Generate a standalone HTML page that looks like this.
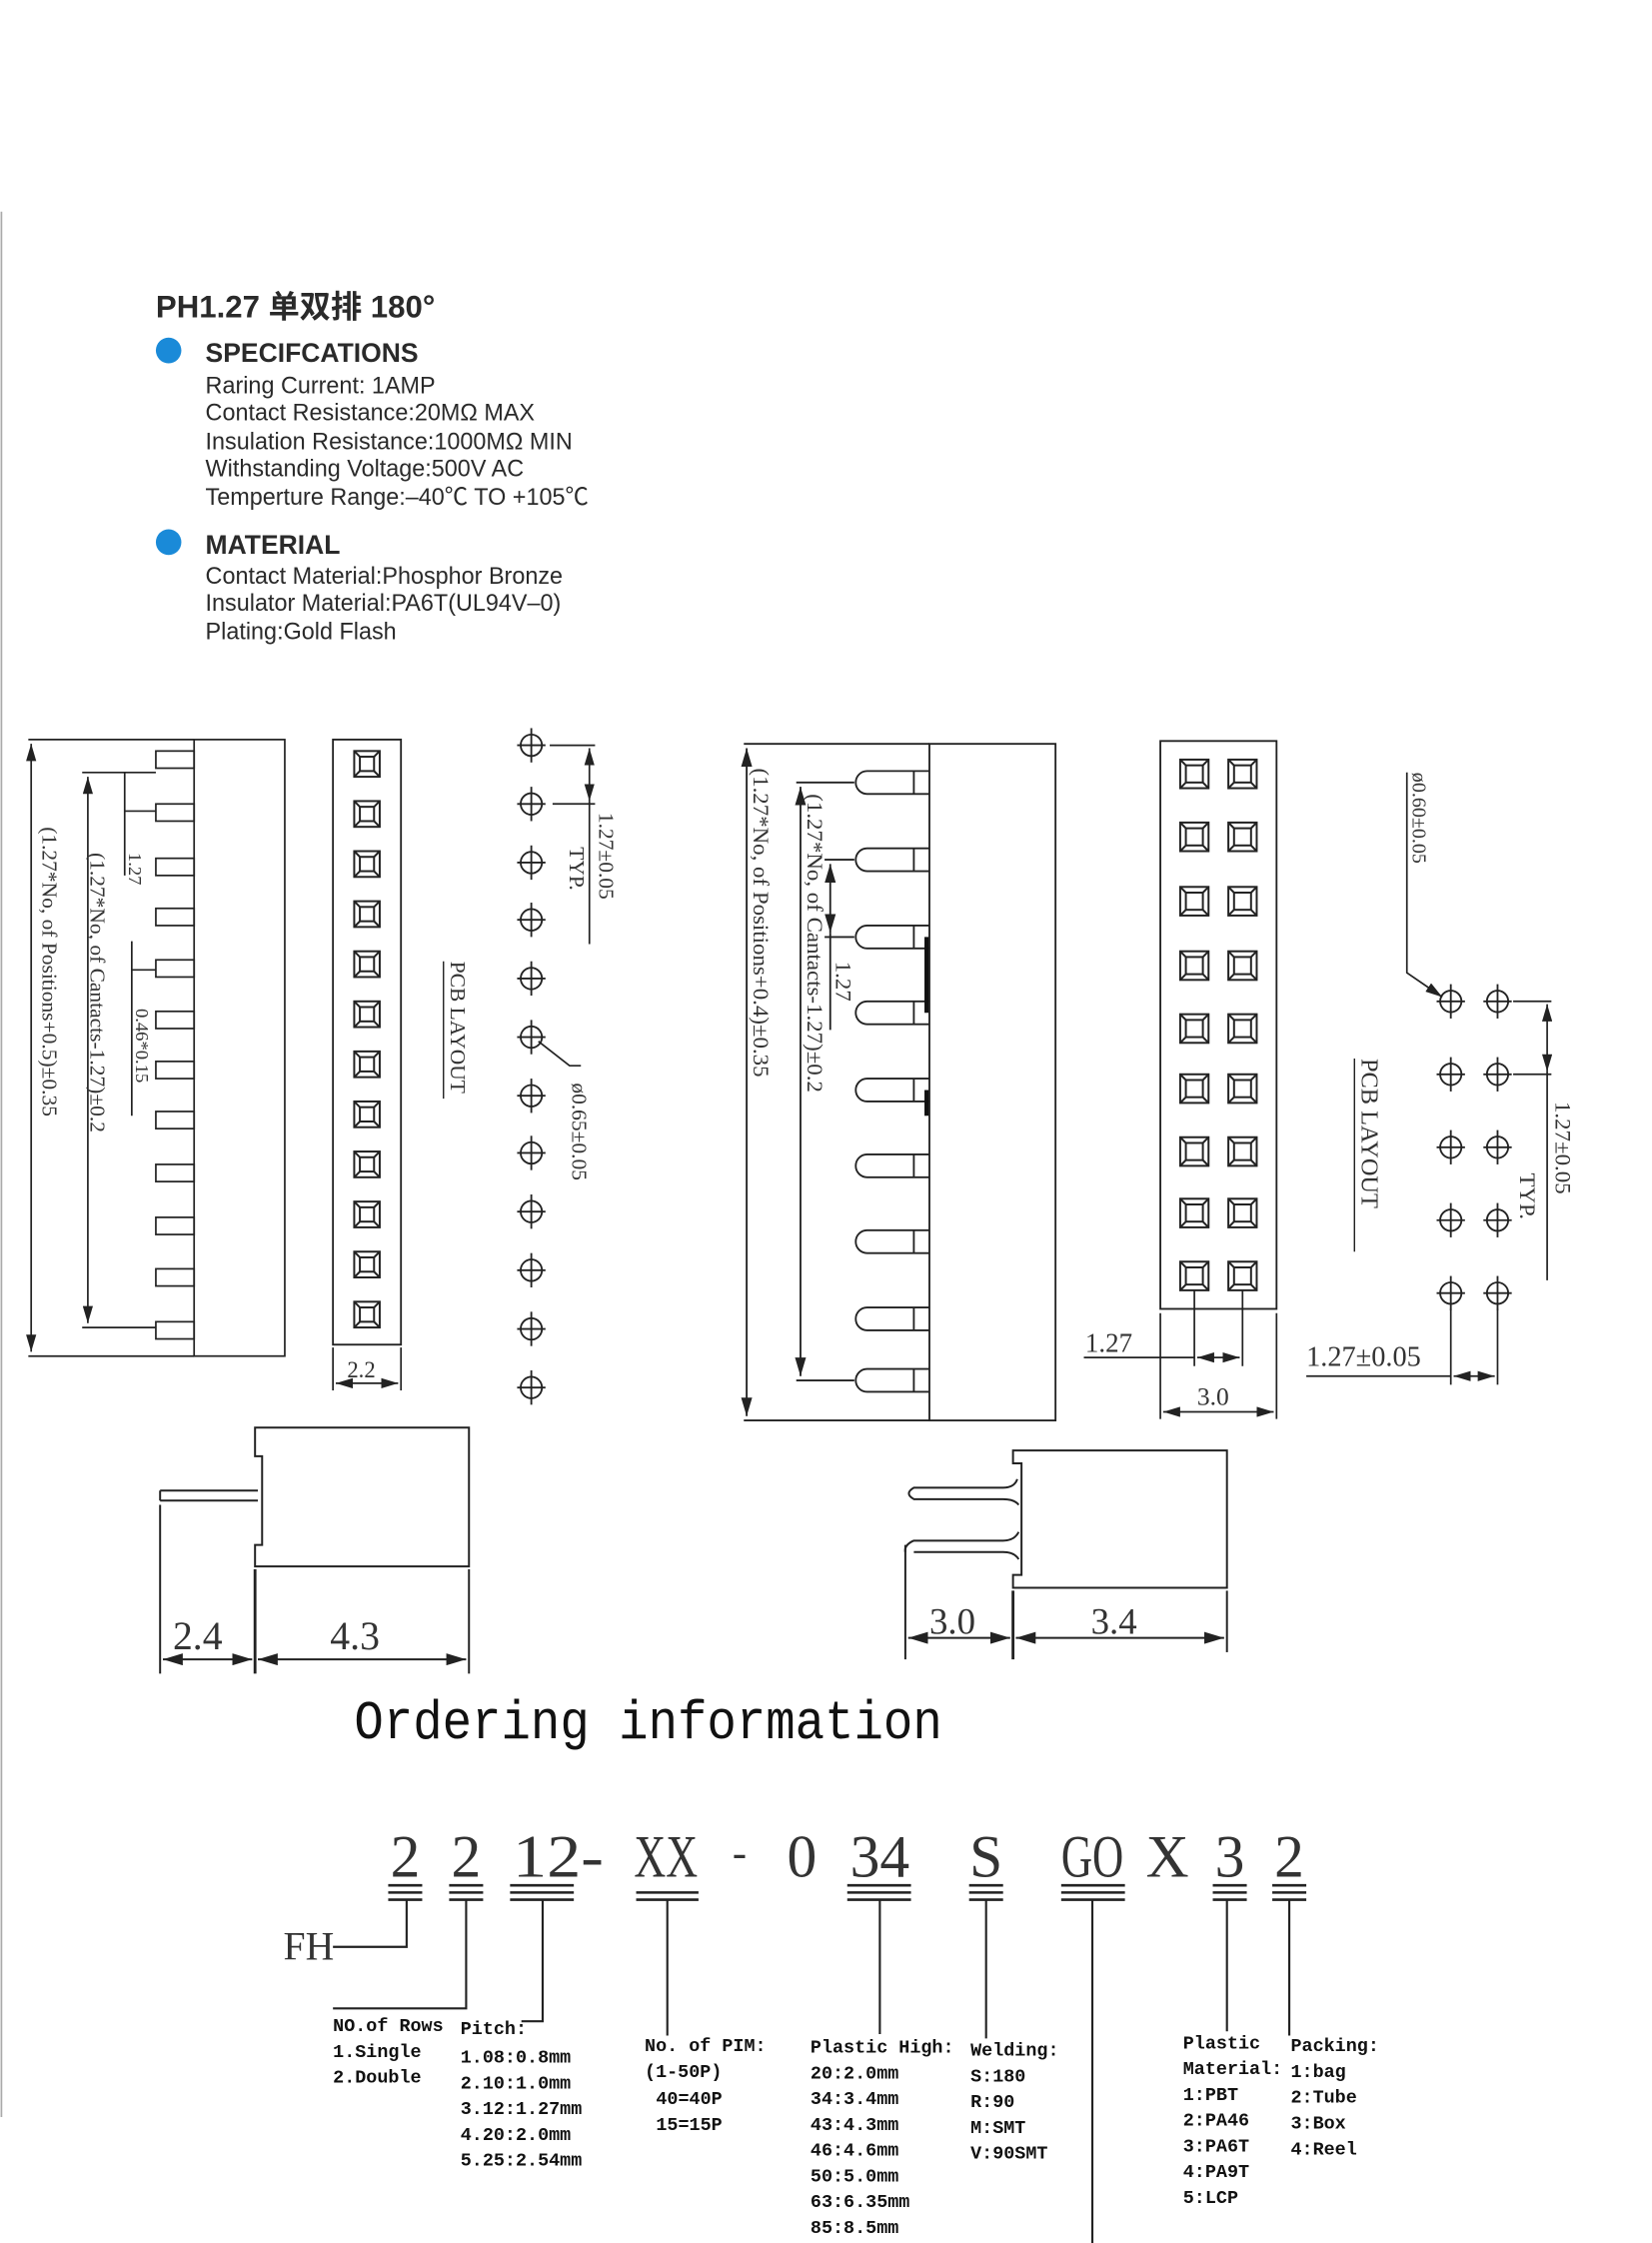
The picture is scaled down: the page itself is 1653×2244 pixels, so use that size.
<!DOCTYPE html>
<html><head><meta charset="utf-8"><style>
html,body{margin:0;padding:0;background:#fff}
svg{display:block}
.s{font-family:"Liberation Sans","Noto Sans CJK SC",sans-serif;fill:#2a2a2a}
.d{font-family:"Liberation Serif",serif;fill:#333}
.m{font-family:"Liberation Mono",monospace;font-weight:bold;fill:#111}
</style></head><body>
<svg width="1653" height="2244" viewBox="0 0 1166 1568" preserveAspectRatio="none" xmlns="http://www.w3.org/2000/svg">
<defs>
<g id="ch" stroke="#222" stroke-width="1.3" fill="none"><circle r="7.5"/><line x1="-10" y1="0" x2="10" y2="0"/><line x1="0" y1="-12" x2="0" y2="12"/></g>
<g id="sq" stroke="#222" stroke-width="1.4" fill="none"><rect x="-9" y="-9" width="18" height="18"/><rect x="-5" y="-5" width="10" height="10"/><path d="M-9,-9L-5,-5M9,-9L5,-5M-9,9L-5,5M9,9L5,5"/></g>
<g id="sq2" stroke="#222" stroke-width="1.4" fill="none"><rect x="-10" y="-10" width="20" height="20"/><rect x="-6" y="-6" width="12" height="12"/><path d="M-10,-10L-6,-6M10,-10L6,-6M-10,10L-6,6M10,10L6,6"/></g>
<g id="lp" stroke="#222" stroke-width="1.2" fill="none"><rect x="110" y="-6" width="27" height="12"/></g>
<g id="mp" stroke="#222" stroke-width="1.3" fill="none"><path d="M656,-8H612A8,8 0 0 0 612,8H656"/><line x1="645" y1="-8" x2="645" y2="8"/></g>
<marker id="ar" markerWidth="10" markerHeight="6" refX="10" refY="3" orient="auto-start-reverse"><path d="M0,0L10,3L0,6z" fill="#222"/></marker>
</defs>
<line x1="1" y1="148" x2="1" y2="1480" stroke="#aaa" stroke-width="1.2"/>

<text x="110" y="222" class="s" font-size="22" font-weight="bold" fill="#222">PH1.27 单双排 180°</text>
<circle cx="119" cy="245" r="9" fill="#1a8ad8"/>
<text x="145" y="253" class="s" font-size="18.7" font-weight="bold">SPECIFCATIONS</text>
<g class="s" font-size="16.5">
<text x="145" y="275">Raring Current: 1AMP</text>
<text x="145" y="294">Contact Resistance:20MΩ  MAX</text>
<text x="145" y="314">Insulation Resistance:1000MΩ  MIN</text>
<text x="145" y="333">Withstanding Voltage:500V AC</text>
<text x="145" y="353">Temperture Range:–40℃ TO +105℃</text>
</g>
<circle cx="119" cy="379" r="9" fill="#1a8ad8"/>
<text x="145" y="387" class="s" font-size="18.7" font-weight="bold">MATERIAL</text>
<g class="s" font-size="16.5">
<text x="145" y="408">Contact Material:Phosphor Bronze</text>
<text x="145" y="427">Insulator Material:PA6T(UL94V–0)</text>
<text x="145" y="447">Plating:Gold Flash</text>
</g>

<g stroke="#222" stroke-width="1.2" fill="none">
<rect x="137" y="517" width="64" height="431"/>
<line x1="20" y1="517" x2="137" y2="517"/><line x1="20" y1="948" x2="137" y2="948"/>
<line x1="22" y1="520" x2="22" y2="945" marker-start="url(#ar)" marker-end="url(#ar)"/>
<line x1="58" y1="540" x2="110" y2="540"/><line x1="58" y1="928" x2="110" y2="928"/>
<line x1="62" y1="543" x2="62" y2="925" marker-start="url(#ar)" marker-end="url(#ar)"/>
<line x1="88" y1="540" x2="88" y2="612"/><line x1="88" y1="567" x2="110" y2="567"/>
<line x1="93" y1="658" x2="93" y2="780"/><line x1="93" y1="678" x2="110" y2="678"/>
</g>
<g>
<use href="#lp" y="531"/><use href="#lp" y="568"/><use href="#lp" y="606"/><use href="#lp" y="641"/><use href="#lp" y="677"/><use href="#lp" y="713"/><use href="#lp" y="748"/><use href="#lp" y="783"/><use href="#lp" y="820"/><use href="#lp" y="857"/><use href="#lp" y="893"/><use href="#lp" y="930"/>
</g>
<g class="d" font-size="15">
<text transform="translate(30,578) rotate(90)">(1.27*No, of Positions+0.5)±0.35</text>
<text transform="translate(64,596) rotate(90)">(1.27*No, of Cantacts-1.27)±0.2</text>
<text transform="translate(91,596) rotate(90)" font-size="13">1.27</text>
<text transform="translate(96,705) rotate(90)" font-size="13">0.46*0.15</text>
</g>

<rect x="235" y="517" width="48" height="423" stroke="#222" stroke-width="1.3" fill="none"/>
<g transform="translate(259,0)">
<use href="#sq" y="534"/><use href="#sq" y="569"/><use href="#sq" y="604"/><use href="#sq" y="639"/><use href="#sq" y="674"/><use href="#sq" y="709"/><use href="#sq" y="744"/><use href="#sq" y="779"/><use href="#sq" y="814"/><use href="#sq" y="849"/><use href="#sq" y="884"/><use href="#sq" y="919"/>
</g>
<g stroke="#222" stroke-width="1.2"><line x1="235" y1="942" x2="235" y2="972"/><line x1="283" y1="942" x2="283" y2="972"/><line x1="237" y1="967" x2="281" y2="967" marker-start="url(#ar)" marker-end="url(#ar)"/></g>
<text x="245" y="963" class="d" font-size="16">2.2</text>

<g transform="translate(375,0)">
<use href="#ch" y="521"/><use href="#ch" y="562"/><use href="#ch" y="603"/><use href="#ch" y="643"/><use href="#ch" y="684"/><use href="#ch" y="725"/><use href="#ch" y="766"/><use href="#ch" y="806"/><use href="#ch" y="847"/><use href="#ch" y="888"/><use href="#ch" y="929"/><use href="#ch" y="970"/>
</g>
<g stroke="#222" stroke-width="1.2" fill="none">
<line x1="388" y1="521" x2="420" y2="521"/><line x1="390" y1="562" x2="420" y2="562"/>
<line x1="416" y1="523" x2="416" y2="560" marker-start="url(#ar)" marker-end="url(#ar)"/>
<line x1="416" y1="560" x2="416" y2="660"/>
<path d="M380,728L402,745H410"/>
</g>
<g class="d" font-size="15">
<text transform="translate(423,568) rotate(90)">1.27±0.05</text>
<text transform="translate(402,592) rotate(90)">TYP.</text>
<text transform="translate(404,757) rotate(90)">ø0.65±0.05</text>
<text transform="translate(318,672) rotate(90)">PCB LAYOUT</text>
</g>
<line x1="313" y1="672" x2="313" y2="768" stroke="#222"/>

<g stroke="#222" stroke-width="1.3" fill="none">
<rect x="656" y="520" width="89" height="473"/>
<line x1="525" y1="520" x2="656" y2="520"/><line x1="525" y1="993" x2="656" y2="993"/>
<line x1="527" y1="523" x2="527" y2="990" marker-start="url(#ar)" marker-end="url(#ar)"/>
<line x1="562" y1="547" x2="603" y2="547"/><line x1="562" y1="965" x2="603" y2="965"/>
<line x1="565" y1="550" x2="565" y2="962" marker-start="url(#ar)" marker-end="url(#ar)"/>
<line x1="582" y1="601" x2="603" y2="601"/><line x1="582" y1="655" x2="603" y2="655"/>
<line x1="586" y1="604" x2="586" y2="652" marker-start="url(#ar)" marker-end="url(#ar)"/>
<line x1="586" y1="652" x2="586" y2="720"/>
</g>
<g>
<use href="#mp" y="547"/><use href="#mp" y="601"/><use href="#mp" y="655"/><use href="#mp" y="708"/><use href="#mp" y="762"/><use href="#mp" y="815"/><use href="#mp" y="868"/><use href="#mp" y="922"/><use href="#mp" y="965"/>
</g>
<g stroke="#111" stroke-width="3"><line x1="654" y1="655" x2="654" y2="708"/><line x1="654" y1="762" x2="654" y2="780"/></g>
<g class="d" font-size="16">
<text transform="translate(532,537) rotate(90)">(1.27*No, of Positions+0.4)±0.35</text>
<text transform="translate(570,555) rotate(90)">(1.27*No, of Cantacts-1.27)±0.2</text>
<text transform="translate(590,672) rotate(90)">1.27</text>
</g>

<rect x="819" y="518" width="82" height="397" stroke="#222" stroke-width="1.3" fill="none"/>
<g>
<g transform="translate(843,0)"><use href="#sq2" y="541"/><use href="#sq2" y="585"/><use href="#sq2" y="630"/><use href="#sq2" y="675"/><use href="#sq2" y="719"/><use href="#sq2" y="761"/><use href="#sq2" y="805"/><use href="#sq2" y="848"/><use href="#sq2" y="892"/></g>
<g transform="translate(877,0)"><use href="#sq2" y="541"/><use href="#sq2" y="585"/><use href="#sq2" y="630"/><use href="#sq2" y="675"/><use href="#sq2" y="719"/><use href="#sq2" y="761"/><use href="#sq2" y="805"/><use href="#sq2" y="848"/><use href="#sq2" y="892"/></g>
</g>
<g stroke="#222" stroke-width="1.2" fill="none">
<line x1="819" y1="918" x2="819" y2="992"/><line x1="901" y1="918" x2="901" y2="992"/>
<line x1="821" y1="987" x2="899" y2="987" marker-start="url(#ar)" marker-end="url(#ar)"/>
<line x1="843" y1="902" x2="843" y2="955"/><line x1="877" y1="902" x2="877" y2="955"/>
<line x1="765" y1="949" x2="843" y2="949"/>
<line x1="845" y1="949" x2="875" y2="949" marker-start="url(#ar)" marker-end="url(#ar)"/>
</g>
<text x="766" y="945" class="d" font-size="19">1.27</text>
<text x="845" y="982" class="d" font-size="18">3.0</text>

<g><g transform="translate(1024,0)"><use href="#ch" y="700"/><use href="#ch" y="751"/><use href="#ch" y="802"/><use href="#ch" y="853"/><use href="#ch" y="904"/></g>
<g transform="translate(1057,0)"><use href="#ch" y="700"/><use href="#ch" y="751"/><use href="#ch" y="802"/><use href="#ch" y="853"/><use href="#ch" y="904"/></g></g>
<g stroke="#222" stroke-width="1.2" fill="none">
<line x1="1068" y1="700" x2="1095" y2="700"/><line x1="1068" y1="751" x2="1095" y2="751"/>
<line x1="1092" y1="702" x2="1092" y2="749" marker-start="url(#ar)" marker-end="url(#ar)"/>
<line x1="1092" y1="749" x2="1092" y2="895"/>
<path d="M993,540V680L1018,697" marker-end="url(#ar)"/>
<line x1="1024" y1="915" x2="1024" y2="968"/><line x1="1057" y1="915" x2="1057" y2="968"/>
<line x1="922" y1="962" x2="1024" y2="962"/>
<line x1="1026" y1="962" x2="1055" y2="962" marker-start="url(#ar)" marker-end="url(#ar)"/>
</g>
<g class="d" font-size="16">
<text transform="translate(1098,770) rotate(90)">1.27±0.05</text>
<text transform="translate(1073,820) rotate(90)">TYP.</text>
<text transform="translate(997,540) rotate(90)" font-size="14">ø0.60±0.05</text>
<text transform="translate(961,740) rotate(90)" font-size="17">PCB  LAYOUT</text>
<text x="922" y="955" font-size="20">1.27±0.05</text>
</g>
<line x1="956" y1="740" x2="956" y2="875" stroke="#222"/>

<g stroke="#222" stroke-width="1.4" fill="none">
<path d="M180,998H331V1095H180V1080H185V1018H180Z"/>
<path d="M113,1042H182M113,1049H182M113,1042V1049"/>
<line x1="113" y1="1052" x2="113" y2="1170"/><line x1="180" y1="1097" x2="180" y2="1170" stroke-width="2"/><line x1="331" y1="1097" x2="331" y2="1170"/>
<line x1="115" y1="1160" x2="178" y2="1160" marker-start="url(#ar)" marker-end="url(#ar)"/>
<line x1="182" y1="1160" x2="329" y2="1160" marker-start="url(#ar)" marker-end="url(#ar)"/>
</g>
<text x="122" y="1153" class="d" font-size="28" fill="#444">2.4</text>
<text x="233" y="1153" class="d" font-size="28" fill="#444">4.3</text>

<g stroke="#222" stroke-width="1.4" fill="none">
<path d="M715,1014H866V1110H715V1101H721V1023H715Z"/>
<path d="M718,1034Q716,1040 708,1040H645Q638,1044 645,1048H708Q716,1048 719,1052"/>
<path d="M719,1071Q716,1077 708,1077H645Q638,1080 639,1085M645,1085H708Q716,1085 719,1090"/>
<line x1="639" y1="1080" x2="639" y2="1160"/><line x1="715" y1="1112" x2="715" y2="1160" stroke-width="2"/><line x1="866" y1="1112" x2="866" y2="1155"/>
<line x1="641" y1="1145" x2="713" y2="1145" marker-start="url(#ar)" marker-end="url(#ar)"/>
<line x1="717" y1="1145" x2="864" y2="1145" marker-start="url(#ar)" marker-end="url(#ar)"/>
</g>
<text x="656" y="1142" class="d" font-size="26" fill="#444">3.0</text>
<text x="770" y="1142" class="d" font-size="26" fill="#444">3.4</text>

<text x="250" y="1215" font-family="Liberation Mono,monospace" font-size="38" fill="#111" textLength="415" lengthAdjust="spacingAndGlyphs">Ordering information</text>
<g class="d" font-size="42" fill="#333" text-anchor="middle">
<text x="286" y="1312">2</text><text x="329" y="1312">2</text>
<text x="394" y="1312" textLength="64" lengthAdjust="spacingAndGlyphs">12-</text>
<text x="470" y="1312" textLength="45" lengthAdjust="spacingAndGlyphs">XX</text>
<text x="522" y="1305" font-size="30">-</text>
<text x="566" y="1312">0</text>
<text x="621" y="1312" textLength="42" lengthAdjust="spacingAndGlyphs">34</text>
<text x="696" y="1312">S</text>
<text x="771" y="1312" textLength="44" lengthAdjust="spacingAndGlyphs">GO</text>
<text x="824" y="1312">X</text><text x="868" y="1312">3</text><text x="910" y="1312">2</text>
</g>
<g stroke="#222" stroke-width="1.8">
<path d="M274,1318H298M274,1323H298M274,1328H298"/>
<path d="M317,1318H341M317,1323H341M317,1328H341"/>
<path d="M360,1318H405M360,1323H405M360,1328H405"/>
<path d="M449,1323H493M449,1328H493"/>
<path d="M598,1318H643M598,1323H643M598,1328H643"/>
<path d="M684,1318H708M684,1323H708M684,1328H708"/>
<path d="M749,1318H794M749,1323H794M749,1328H794"/>
<path d="M856,1318H880M856,1323H880M856,1328H880"/>
<path d="M898,1318H922M898,1323H922M898,1328H922"/>
</g>
<g stroke="#222" stroke-width="1.5" fill="none">
<path d="M287,1328V1361H235"/>
<path d="M329,1328V1404H235"/>
<path d="M383,1328V1413H368"/>
<line x1="471" y1="1328" x2="471" y2="1423"/>
<line x1="621" y1="1328" x2="621" y2="1422"/>
<line x1="696" y1="1328" x2="696" y2="1425"/>
<line x1="771" y1="1328" x2="771" y2="1568"/>
<line x1="866" y1="1328" x2="866" y2="1420"/>
<line x1="910" y1="1328" x2="910" y2="1423"/>
</g>
<text x="200" y="1370" class="d" font-size="28" fill="#333">FH</text>
<g class="m" font-size="13">
<text x="235" y="1420">NO.of Rows</text><text x="235" y="1438">1.Single</text><text x="235" y="1456">2.Double</text>
<text x="325" y="1422">Pitch:</text><text x="325" y="1442">1.08:0.8mm</text><text x="325" y="1460">2.10:1.0mm</text><text x="325" y="1478">3.12:1.27mm</text><text x="325" y="1496">4.20:2.0mm</text><text x="325" y="1514">5.25:2.54mm</text>
<text x="455" y="1434">No. of PIM:</text><text x="455" y="1452">(1-50P)</text><text x="463" y="1471">40=40P</text><text x="463" y="1489">15=15P</text>
<text x="572" y="1435">Plastic High:</text><text x="572" y="1453">20:2.0mm</text><text x="572" y="1471">34:3.4mm</text><text x="572" y="1489">43:4.3mm</text><text x="572" y="1507">46:4.6mm</text><text x="572" y="1525">50:5.0mm</text><text x="572" y="1543">63:6.35mm</text><text x="572" y="1561">85:8.5mm</text>
<text x="685" y="1437">Welding:</text><text x="685" y="1455">S:180</text><text x="685" y="1473">R:90</text><text x="685" y="1491">M:SMT</text><text x="685" y="1509">V:90SMT</text>
<text x="835" y="1432">Plastic</text><text x="835" y="1450">Material:</text><text x="835" y="1468">1:PBT</text><text x="835" y="1486">2:PA46</text><text x="835" y="1504">3:PA6T</text><text x="835" y="1522">4:PA9T</text><text x="835" y="1540">5:LCP</text>
<text x="911" y="1434">Packing:</text><text x="911" y="1452">1:bag</text><text x="911" y="1470">2:Tube</text><text x="911" y="1488">3:Box</text><text x="911" y="1506">4:Reel</text>
</g>
</svg>
</body></html>
